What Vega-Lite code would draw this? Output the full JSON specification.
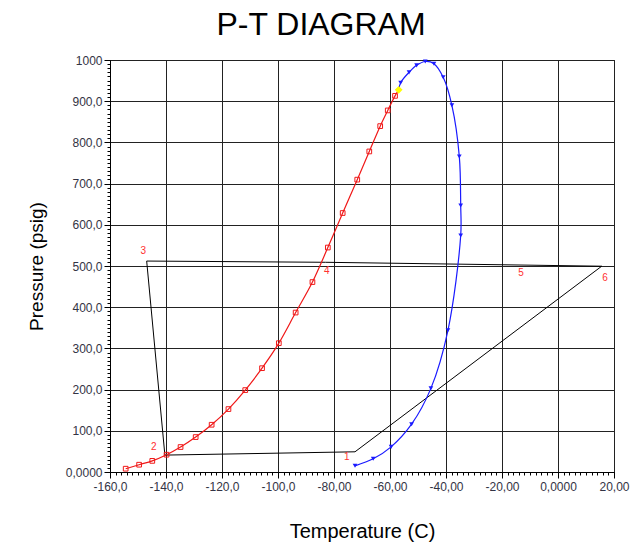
{
  "$schema": "https://vega.github.io/schema/vega-lite/v6.json",
  "autosize": {"type": "none"},
  "padding": {"left": 110, "top": 60, "right": 16, "bottom": 74},
  "width": 504,
  "height": 412,
  "background": "white",
  "title": {"text": "P-T DIAGRAM", "font": "Liberation Sans", "fontSize": 32, "fontWeight": "normal", "color": "black", "frame": "group", "anchor": "middle", "dx": -41, "dy": 32, "offset": 19, "baseline": "alphabetic"},
  "config": {
    "view": {"stroke": "black", "strokeWidth": 1},
    "axis": {"labelFont": "Liberation Sans", "titleFont": "Liberation Sans", "labelFontSize": 12, "labelColor": "#333344", "titleColor": "black", "titleFontWeight": "normal", "domainColor": "black", "tickColor": "black", "gridColor": "#222222", "gridWidth": 1, "labelOverlap": false, "labelFlush": false}
  },
  "datasets": {
    "red": [
      {"T": -154.4, "P": 8, "i": 1, "mk": 1},
      {"T": -149.6, "P": 17.7, "i": 2, "mk": 1},
      {"T": -144.9, "P": 27, "i": 3, "mk": 1},
      {"T": -139.8, "P": 42, "i": 4, "mk": 1},
      {"T": -134.8, "P": 60.6, "i": 5, "mk": 1},
      {"T": -129.4, "P": 84.8, "i": 6, "mk": 1},
      {"T": -123.7, "P": 114.7, "i": 7, "mk": 1},
      {"T": -117.7, "P": 152.7, "i": 8, "mk": 1},
      {"T": -111.7, "P": 198.8, "i": 9, "mk": 1},
      {"T": -105.7, "P": 252, "i": 10, "mk": 1},
      {"T": -99.7, "P": 312.7, "i": 11, "mk": 1},
      {"T": -93.7, "P": 387, "i": 12, "mk": 1},
      {"T": -87.7, "P": 461, "i": 13, "mk": 1},
      {"T": -82.2, "P": 544.8, "i": 14, "mk": 1},
      {"T": -76.9, "P": 628.6, "i": 15, "mk": 1},
      {"T": -71.7, "P": 709.6, "i": 16, "mk": 1},
      {"T": -67.4, "P": 778, "i": 17, "mk": 1},
      {"T": -63.5, "P": 839.5, "i": 18, "mk": 1},
      {"T": -60.8, "P": 877.6, "i": 19, "mk": 1},
      {"T": -58.2, "P": 913, "i": 20, "mk": 1},
      {"T": -56.9, "P": 927.7, "i": 21, "mk": 0}
    ],
    "blue": [
      {"T": -72.5, "P": 15, "i": 1, "mk": 1},
      {"T": -66, "P": 32, "i": 2, "mk": 1},
      {"T": -59.6, "P": 61, "i": 3, "mk": 1},
      {"T": -52.3, "P": 116, "i": 4, "mk": 1},
      {"T": -45.4, "P": 203, "i": 5, "mk": 1},
      {"T": -39.3, "P": 344, "i": 6, "mk": 1},
      {"T": -34.75, "P": 574, "i": 7, "mk": 1},
      {"T": -34.75, "P": 647, "i": 8, "mk": 1},
      {"T": -35.25, "P": 766, "i": 9, "mk": 1},
      {"T": -37.9, "P": 890, "i": 10, "mk": 1},
      {"T": -41, "P": 958, "i": 11, "mk": 1},
      {"T": -44.3, "P": 991, "i": 12, "mk": 1},
      {"T": -47.4, "P": 996.4, "i": 13, "mk": 1},
      {"T": -50.5, "P": 987, "i": 14, "mk": 1},
      {"T": -53.2, "P": 970, "i": 15, "mk": 1},
      {"T": -56.2, "P": 945, "i": 16, "mk": 1},
      {"T": -56.9, "P": 927.7, "i": 17, "mk": 0}
    ],
    "cycle": [
      {"T": -72.5, "P": 49, "i": 1},
      {"T": 15.6, "P": 499.5, "i": 2},
      {"T": -20, "P": 503, "i": 3},
      {"T": -83, "P": 509, "i": 4},
      {"T": -146.9, "P": 512, "i": 5},
      {"T": -140.4, "P": 41, "i": 6},
      {"T": -72.5, "P": 49, "i": 7}
    ],
    "labels": [
      {"T": -75.4, "P": 35.6, "t": "1"},
      {"T": -144.4, "P": 60, "t": "2"},
      {"T": -148.1, "P": 536.5, "t": "3"},
      {"T": -82.6, "P": 487, "t": "4"},
      {"T": -13.2, "P": 484, "t": "5"},
      {"T": 16.8, "P": 470, "t": "6"}
    ],
    "cp": [
      {"T": -56.9, "P": 927.7}
    ]
  },
  "encoding": {
    "x": {"field": "T", "type": "quantitative",
      "scale": {"domain": [-160, 20], "nice": false, "zero": false},
      "axis": {
        "title": "Temperature (C)", "titleFontSize": 20, "titleX": 252, "titleY": 65, "titleBaseline": "alphabetic",
        "tickCount": 90, "labelPadding": 3,
        "labelExpr": "datum.value % 20 !== 0 ? '' : datum.value === 0 ? '0,0000' : datum.value === 20 ? '20,00' : datum.value <= -100 ? datum.value + ',0' : datum.value + ',00'",
        "tickSize": {"condition": {"test": "datum.value % 20 === 0", "value": 6}, "value": 3},
        "gridOpacity": {"condition": {"test": "datum.value % 20 === 0", "value": 1}, "value": 0}
      }},
    "y": {"field": "P", "type": "quantitative",
      "scale": {"domain": [0, 1000], "nice": false},
      "axis": {
        "title": "Pressure (psig)", "titleFontSize": 19, "titleX": -74, "titleY": 206, "titleAlign": "center", "titleBaseline": "middle", "titleAngle": 270,
        "tickCount": 100, "labelPadding": 2,
        "labelExpr": "datum.value % 100 !== 0 ? '' : datum.value === 1000 ? '1000' : datum.value === 0 ? '0,0000' : datum.value + ',0'",
        "tickSize": {"condition": {"test": "datum.value % 100 === 0", "value": 6}, "value": 3},
        "gridOpacity": {"condition": {"test": "datum.value % 100 === 0", "value": 1}, "value": 0}
      }}
  },
  "layer": [
    {"data": {"name": "cycle"}, "mark": {"type": "line", "color": "black", "strokeWidth": 1}, "encoding": {"order": {"field": "i", "type": "quantitative"}}},
    {"data": {"name": "red"}, "mark": {"type": "line", "color": "#f01818", "strokeWidth": 1.2, "interpolate": "monotone"}, "encoding": {"order": {"field": "i", "type": "quantitative"}}},
    {"data": {"name": "red"}, "transform": [{"filter": "datum.mk == 1"}], "mark": {"type": "point", "shape": "square", "size": 22, "filled": false, "color": "#f01818", "strokeWidth": 1, "opacity": 1}},
    {"data": {"name": "blue"}, "mark": {"type": "line", "color": "#1a1aff", "strokeWidth": 1.2, "interpolate": "catmull-rom"}, "encoding": {"order": {"field": "i", "type": "quantitative"}}},
    {"data": {"name": "blue"}, "transform": [{"filter": "datum.mk == 1"}], "mark": {"type": "point", "shape": "triangle-down", "size": 22, "filled": true, "color": "#1a1aff", "opacity": 1}},
    {"data": {"name": "cp"}, "mark": {"type": "point", "shape": "diamond", "size": 60, "filled": true, "color": "#ffff00", "opacity": 1}},
    {"data": {"name": "labels"}, "mark": {"type": "text", "color": "#ff3030", "fontSize": 10, "font": "Liberation Sans"}, "encoding": {"text": {"field": "t"}}}
  ]
}
